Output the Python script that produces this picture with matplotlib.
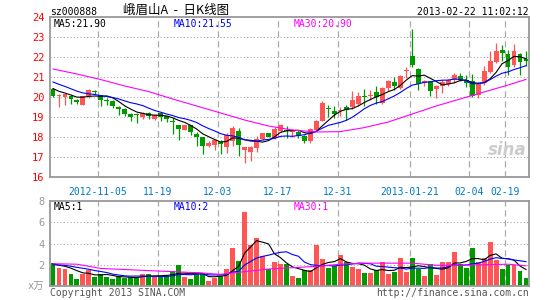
import numpy as np
import pandas as pd
import matplotlib
matplotlib.use('Agg')
import matplotlib.pyplot as plt

plt.rcParams['font.family'] = ['DejaVu Sans Mono', 'Noto Sans CJK SC']

# daily candles, 2012-10-24 .. 2013-02-22 (80 trading days)
opens = [20.42, 20.03, 19.98, 20.07, 19.87, 19.62, 20.03, 20.28, 20.08, 19.84,
         19.82, 19.52, 19.42, 19.17, 19.12, 19.00, 19.20, 18.92, 19.20, 19.03,
         18.77, 18.58, 18.37, 18.58, 18.17, 17.98, 17.53, 17.62, 17.77, 17.48,
         17.82, 18.32, 17.33, 17.23, 17.45, 17.90, 18.20, 17.95, 18.28, 18.33,
         18.23, 18.23, 18.07, 17.82, 18.37, 18.82, 19.43, 19.28, 19.32, 19.50,
         19.50, 19.67, 20.05, 20.05, 20.23, 19.70, 20.45, 20.73, 20.45, 21.32,
         22.07, 21.42, 20.70, 20.78, 20.40, 20.53, 20.67, 20.83, 21.07, 20.85,
         20.78, 20.12, 20.70, 21.25, 21.75, 22.37, 22.15, 21.60, 22.15, 21.90]
highs = [20.47, 20.15, 20.18, 20.10, 19.88, 20.05, 20.42, 20.37, 20.12, 19.95,
         19.83, 19.55, 19.45, 19.20, 19.20, 19.23, 19.23, 19.10, 19.23, 19.05,
         18.95, 18.60, 18.62, 18.62, 18.25, 18.00, 17.78, 17.90, 17.85, 18.20,
         18.53, 18.45, 17.50, 17.53, 18.05, 18.22, 18.22, 18.50, 18.67, 18.57,
         18.42, 18.35, 18.10, 18.45, 18.85, 19.80, 19.58, 19.53, 19.50, 19.62,
         20.28, 20.25, 20.40, 20.37, 20.53, 20.50, 20.87, 21.00, 21.10, 21.50,
         23.40, 21.45, 20.85, 20.80, 20.60, 20.87, 20.88, 21.20, 21.20, 21.10,
         21.15, 20.75, 21.53, 22.30, 22.70, 22.60, 22.37, 22.65, 22.20, 22.30]
lows = [19.98, 19.48, 19.58, 19.65, 19.65, 19.60, 19.95, 20.17, 19.53, 19.60,
        19.45, 19.12, 19.03, 18.82, 18.68, 18.90, 18.90, 18.85, 18.78, 18.75,
        18.17, 17.87, 18.33, 18.10, 17.53, 17.17, 17.48, 17.33, 17.17, 17.20,
        17.53, 17.03, 16.70, 16.80, 17.25, 17.85, 17.98, 17.90, 18.25, 17.95,
        17.98, 17.95, 17.70, 17.70, 18.35, 18.80, 18.98, 18.95, 19.07, 18.87,
        19.40, 19.55, 19.57, 19.85, 19.67, 19.65, 20.28, 20.33, 20.40, 20.95,
        21.50, 20.37, 20.55, 20.05, 19.95, 20.20, 20.55, 20.70, 20.78, 20.50,
        20.00, 19.95, 20.62, 21.20, 21.70, 21.78, 21.12, 21.50, 21.10, 21.55]
closes = [20.05, 20.12, 20.17, 19.90, 19.73, 20.03, 20.33, 20.26, 19.83, 19.82,
          19.53, 19.42, 19.17, 19.02, 19.10, 19.20, 19.07, 19.08, 18.98, 18.92,
          18.75, 18.42, 18.58, 18.23, 18.00, 17.57, 17.70, 17.87, 17.63, 18.12,
          18.45, 17.62, 17.48, 17.50, 17.92, 18.20, 18.00, 18.42, 18.62, 18.30,
          18.27, 18.07, 17.82, 18.42, 18.82, 19.70, 19.40, 19.15, 19.35, 19.33,
          19.87, 20.07, 20.02, 20.08, 20.00, 20.45, 20.78, 20.57, 21.07, 21.35,
          21.58, 20.65, 20.82, 20.28, 20.57, 20.73, 20.83, 21.12, 20.87, 20.72,
          20.03, 20.70, 21.28, 21.82, 22.32, 22.20, 21.50, 22.30, 21.75, 21.80]
# volume, x10000 lots
volumes = [2.20, 1.70, 1.58, 1.10, 0.63, 1.17, 1.47, 0.86, 1.10, 0.83,
           0.70, 0.90, 0.78, 0.83, 0.73, 1.17, 1.17, 0.86, 0.90, 0.90,
           1.45, 1.95, 0.83, 0.63, 1.26, 1.26, 0.44, 0.75, 0.94, 1.58,
           3.53, 2.40, 6.98, 3.90, 4.52, 2.83, 1.58, 2.30, 2.10, 2.05,
           0.95, 0.78, 1.50, 1.50, 3.85, 2.52, 1.70, 1.89, 2.95, 2.27,
           1.80, 1.58, 1.20, 1.20, 1.50, 2.27, 1.10, 1.32, 2.62, 1.32,
           2.62, 1.64, 0.95, 2.05, 1.01, 2.27, 2.27, 3.20, 2.10, 1.70,
           3.60, 2.30, 2.62, 4.15, 2.43, 1.58, 2.00, 2.00, 1.39, 0.78]
# last 9 sessions before the window (needed for MA5 / MA10)
prev_closes = [21.30, 21.20, 21.10, 20.90, 20.90, 20.80, 20.60, 20.40, 20.25]
prev_volumes = [1.80, 2.00, 1.90, 1.70, 2.00, 2.40, 2.10, 2.00, 1.80]
# MA30 every 4 sessions
ma30_idx = [0, 4, 8, 12, 16, 20, 24, 28, 32, 36, 40, 44, 48, 52, 56, 60, 64, 68, 72, 76, 79]
ma30_price = [21.40, 21.15, 20.87, 20.55, 20.27, 19.90, 19.55, 19.20, 18.85, 18.55, 18.35,
              18.25, 18.27, 18.47, 18.75, 19.15, 19.55, 19.90, 20.25, 20.60, 20.88]
ma30_vol = [2.10, 2.05, 1.65, 1.55, 1.45, 1.35, 1.25, 1.10, 1.35, 1.60, 1.72,
            1.85, 2.05, 2.15, 2.15, 2.15, 1.95, 1.95, 2.00, 2.05, 1.90]

date_idx = [8, 18, 28, 38, 48, 60, 70, 76]
date_labels = ['2012-11-05', '11-19', '12-03', '12-17', '12-31', '2013-01-21', '02-04', '02-19']

RED = '#FF5555'
GREEN = '#009900'
GRID = '#AAAAAA'

n = len(closes)
x = np.arange(n)
o = np.array(opens); c = np.array(closes)
up = c >= o
colors = np.where(up, RED, GREEN)

cs = pd.Series(prev_closes + closes)
ma5 = cs.rolling(5).mean().values[len(prev_closes):]
ma10 = cs.rolling(10).mean().values[len(prev_closes):]
vs = pd.Series(prev_volumes + volumes)
vma5 = vs.rolling(5).mean().values[len(prev_volumes):]
vma10 = vs.rolling(10).mean().values[len(prev_volumes):]

W, H = 545, 300
fig = plt.figure(figsize=(5.45, 3.0), dpi=100)
ax = fig.add_axes([50 / W, 1 - 177 / H, 479 / W, 160 / H])
axv = fig.add_axes([50 / W, 1 - 286 / H, 479 / W, 85 / H])


def style(a, ymin, ymax, step):
    a.set_xlim(-0.5, n - 0.5)
    a.set_ylim(ymin, ymax)
    for s in a.spines.values():
        s.set_color('#999999')
        s.set_linewidth(1.3)
    a.set_xticks([d - 0.5 for d in date_idx])
    a.tick_params(length=0)
    for yy in np.arange(ymin + step, ymax, step):
        a.axhline(yy, color=GRID, lw=0.8, ls=(0, (1, 2)), zorder=0)
    for d in date_idx:
        a.axvline(d - 0.45, color=GRID, lw=0.9, ls=(0, (5, 3)), zorder=0)


style(ax, 16, 24, 1)
style(axv, 0, 8, 2)

# candles
ax.vlines(x, lows, highs, colors=colors, lw=0.9, zorder=2)
body = np.maximum(np.abs(c - o), 0.05)
ax.bar(x, body, bottom=np.minimum(o, c), width=0.82, color=colors, lw=0, zorder=3)
ax.plot(x, ma5, color='black', lw=0.8, zorder=4)
ax.plot(x, ma10, color='#0000FF', lw=0.8, zorder=4)
ax.plot(ma30_idx, ma30_price, color='#FF00FF', lw=0.8, zorder=4)

ax.set_yticks(range(16, 25))
ax.set_yticklabels([str(v) for v in range(16, 25)], color='#FF0000', fontsize=7.5)
ax.set_xticklabels(date_labels, color='#0078C8', fontsize=7)
ax.tick_params(axis='x', pad=7)
ax.tick_params(axis='y', pad=4)

# volume
axv.bar(x, volumes, width=0.82, color=colors, lw=0, zorder=2)
axv.plot(x, vma5, color='black', lw=0.8, zorder=4)
axv.plot(x, vma10, color='#0000FF', lw=0.8, zorder=4)
axv.plot(ma30_idx, ma30_vol, color='#FF00FF', lw=0.8, zorder=4)
axv.set_yticks([0, 2, 4, 6, 8])
axv.set_yticklabels(['x万', '2', '4', '6', '8'], color='#999999', fontsize=7.5)
axv.set_xticklabels([])
axv.tick_params(axis='y', pad=4)


def px(xp, yp):
    return xp / W, 1 - yp / H


fs = 7
fig.text(*px(50, 12), 'sz000888', fontsize=fs, va='center', ha='left')
fig.text(*px(176, 10), '峨眉山A  -  日K线图', fontsize=9, va='center', ha='center',
         family=['Noto Sans CJK SC', 'DejaVu Sans'])
fig.text(*px(529, 12), '2013-02-22 11:02:12', fontsize=fs, va='center', ha='right')

fig.text(*px(54, 24), 'MA5:21.90', fontsize=fs, va='center', color='black')
fig.text(*px(174, 24), 'MA10:21.55', fontsize=fs, va='center', color='#0000FF')
fig.text(*px(294, 24), 'MA30:20.90', fontsize=fs, va='center', color='#FF00FF')

fig.text(*px(54, 207), 'MA5:1', fontsize=fs, va='center', color='black')
fig.text(*px(174, 207), 'MA10:2', fontsize=fs, va='center', color='#0000FF')
fig.text(*px(294, 207), 'MA30:1', fontsize=fs, va='center', color='#FF00FF')

fig.text(*px(50, 293), 'Copyright 2013 SINA.COM', fontsize=fs, va='center', color='#555555')
fig.text(*px(529, 293), 'http://finance.sina.com.cn', fontsize=fs, va='center', ha='right',
         color='#555555')
fig.text(*px(507, 150), 'sina', fontsize=12, va='center', ha='center', color='#CCCCCC',
         style='italic', weight='bold', family='DejaVu Sans')

fig.savefig('out.png', dpi=100, facecolor='white')
